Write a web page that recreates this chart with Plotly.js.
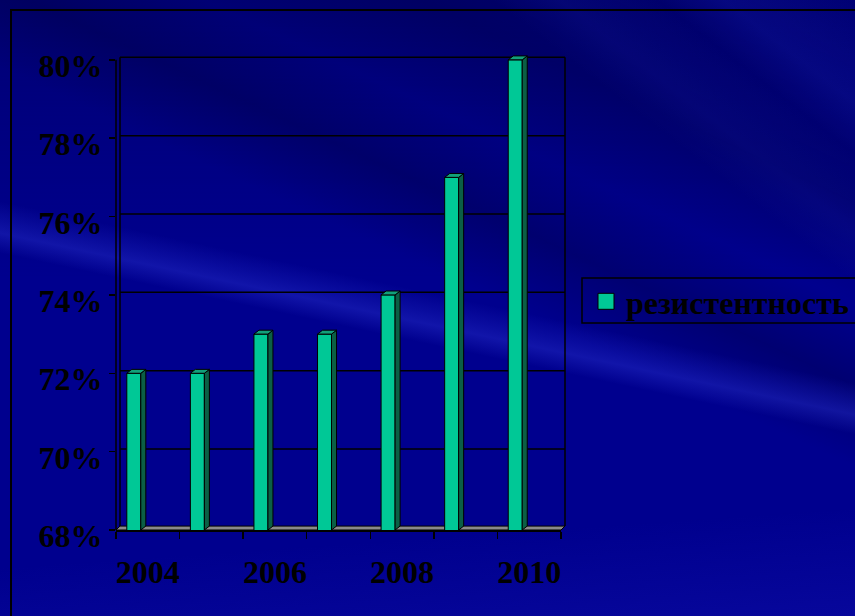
<!DOCTYPE html>
<html><head><meta charset="utf-8">
<script src="https://cdn.plot.ly/plotly-3.0.1.min.js"></script>
<style>
html,body{margin:0;padding:0;width:855px;height:616px;overflow:hidden;}
body{
  background-color:#00008e;
  background-image:
    linear-gradient(192deg, rgba(0,0,0,0) 0%, rgba(0,0,0,0) 48%, rgba(40,50,210,0.25) 50.5%, rgba(50,60,220,0.35) 52%, rgba(0,0,0,0) 54.5%, rgba(0,0,0,0) 100%),
    linear-gradient(205deg, rgba(0,0,60,0) 0%, rgba(0,0,60,0.30) 20%, rgba(0,0,60,0.0) 30%, rgba(0,0,60,0.35) 38%, rgba(0,0,60,0) 46%, rgba(0,0,0,0) 100%),
    linear-gradient(218deg, rgba(0,0,0,0) 0%, rgba(30,40,200,0.22) 8%, rgba(0,0,0,0) 12%, rgba(30,40,200,0.18) 18%, rgba(0,0,0,0) 22%, rgba(0,0,0,0) 100%),
    linear-gradient(176deg, rgba(0,0,0,0) 0%, rgba(0,0,0,0) 84%, rgba(20,20,180,0.35) 100%),
    linear-gradient(180deg, rgba(0,0,90,0.5) 0%, rgba(0,0,90,0) 45%);
}
#frame{position:absolute;left:10px;top:9px;width:900px;height:700px;border-top:2px solid #000;border-left:2px solid #000;}
#chart{position:absolute;left:0;top:0;width:855px;height:616px;}
</style></head><body><div id="frame"></div><div id="chart"></div>
<script>
// ---- data ----
const years = [2004, 2005, 2006, 2007, 2008, 2009, 2010];
const resistance = [72, 72, 73, 73, 74, 77, 80];
const yTickVals = [68, 70, 72, 74, 76, 78, 80];
const xTickYears = [2004, 2006, 2008, 2010];
const seriesName = 'резистентность';

// ---- style ----
const FONT = 'Liberation Serif, Times New Roman, serif';
const FRONT = '#00c896', SIDE = '#0b5f45', TOP = '#12a07a';
const barOffset = -0.33, barWidth = 0.22;   // in year units
const depthX = 0.079, depthY = 0.1;          // pseudo-3D depth
const yMin = 68, yMax = 80, yTop = 80.2;

// side and top faces computed from data
const sideX = [], sideY = [], topX = [], topY = [];
years.forEach((yr, i) => {
  const v = resistance[i];
  const x0 = yr + barOffset, x1 = x0 + barWidth;
  sideX.push(x1, x1, x1 + depthX, x1 + depthX, x1, null);
  sideY.push(yMin, v, v + depthY, yMin + depthY, yMin, null);
  topX.push(x0, x1, x1 + depthX, x0 + depthX, x0, null);
  topY.push(v, v, v + depthY, v + depthY, v, null);
});

const traces = [
  {type: 'bar', x: years, y: resistance, offset: barOffset, width: barWidth,
   marker: {color: FRONT, line: {color: '#000', width: 1}}, showlegend: false, hoverinfo: 'skip'},
  {type: 'scatter', mode: 'lines', x: sideX, y: sideY, fill: 'toself', fillcolor: SIDE,
   line: {color: '#000', width: 1}, showlegend: false, hoverinfo: 'skip'},
  {type: 'scatter', mode: 'lines', x: topX, y: topY, fill: 'toself', fillcolor: TOP,
   line: {color: '#000', width: 1}, showlegend: false, hoverinfo: 'skip'},
  {type: 'scatter', mode: 'markers', x: [null], y: [null], name: seriesName,
   marker: {symbol: 'square', size: 16, color: FRONT, line: {color: '#000', width: 1}}}
];

const gx = 4 / 445; // wall offset in paper units
const gy = 0.065;   // wall offset in y units
const shapes = [];
yTickVals.slice(1).forEach(v => shapes.push({type: 'line', layer: 'below', xref: 'paper', yref: 'y',
  x0: gx, x1: 1 + gx, y0: v + gy, y1: v + gy, line: {color: '#000', width: 1.5}}));
shapes.push({type: 'line', layer: 'below', xref: 'paper', yref: 'y', x0: gx, x1: gx, y0: yMin + depthY, y1: yMax + gy, line: {color: '#000', width: 1.5}});
shapes.push({type: 'line', layer: 'below', xref: 'paper', yref: 'y', x0: 1 + gx, x1: 1 + gx, y0: yMin + depthY, y1: yMax + gy, line: {color: '#000', width: 1.5}});
shapes.push({type: 'path', layer: 'below', xref: 'paper', yref: 'y',
  path: `M0,${yMin} L1,${yMin} L${1 + gx},${yMin + depthY} L${gx},${yMin + depthY} Z`,
  fillcolor: '#8a8a8a', line: {color: '#000', width: 1}});
// legend frame (paper units of the plot area: 445 x 478 px)
shapes.push({type: 'rect', xref: 'paper', yref: 'paper',
  x0: (582 - 116) / 445, x1: (870 - 116) / 445, y0: 207 / 478, y1: 252 / 478,
  line: {color: '#000', width: 1.5}, fillcolor: 'rgba(0,0,0,0)'});
// y axis line from 68% to 80%
shapes.push({type: 'line', xref: 'paper', yref: 'y', x0: 0, x1: 0, y0: yMin, y1: yMax, line: {color: '#000', width: 1.5}});

const layout = {
  width: 855, height: 616,
  margin: {l: 116, r: 294, t: 52, b: 86, autoexpand: false},
  paper_bgcolor: 'rgba(0,0,0,0)', plot_bgcolor: 'rgba(0,0,0,0)',
  font: {family: FONT, color: '#000', size: 32, weight: 700},
  xaxis: {range: [2003.5, 2010.5], tickvals: xTickYears, ticktext: xTickYears.map(String),
    ticks: '', showgrid: false, zeroline: false, showline: true, linecolor: '#000', linewidth: 1.5,
    ticklabelstandoff: 13,
    tickfont: {family: FONT, size: 32, color: '#000', weight: 700},
    minor: {ticks: 'outside', tick0: 2003.5, dtick: 1, ticklen: 7, tickcolor: '#000', tickwidth: 1.5, showgrid: false}},
  yaxis: {range: [yMin, yTop], tickvals: yTickVals, ticktext: yTickVals.map(v => v + '%'),
    ticks: 'outside', ticklen: 6, tickcolor: '#000', tickwidth: 1.5, showgrid: false, zeroline: false,
    showline: false, ticklabelstandoff: 0, ticklabelshift: 6,
    tickfont: {family: FONT, size: 32, color: '#000', weight: 700}},
  showlegend: true,
  legend: {x: (586 - 116) / 445, xanchor: 'left', y: 256 / 478, yanchor: 'top', bgcolor: 'rgba(0,0,0,0)',
    borderwidth: 0, font: {family: FONT, size: 32, color: '#000', weight: 700},
    itemsizing: 'trace'},
  shapes: shapes,
  bargap: 0
};

Plotly.newPlot('chart', traces, layout, {staticPlot: true, displayModeBar: false});
</script>
</body></html>
